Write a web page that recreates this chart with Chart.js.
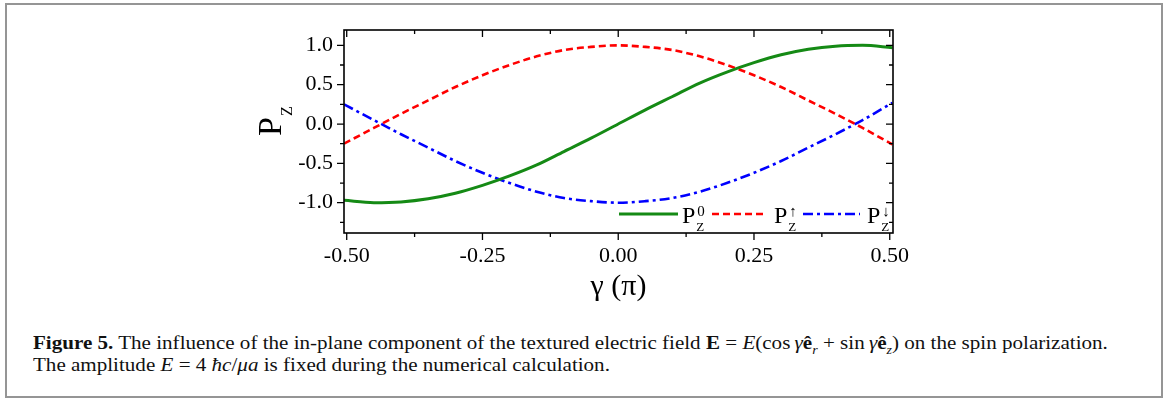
<!DOCTYPE html>
<html>
<head>
<meta charset="utf-8">
<script src="https://cdn.jsdelivr.net/npm/chart.js@4.4.1/dist/chart.umd.min.js"></script>
<style>
  body { margin: 0; background: #fff; }
  #wrap { position: relative; width: 1168px; height: 399px; overflow: hidden; }
  #frame { position: absolute; left: 5px; top: 3px; width: 1158px; height: 395px; border: 2px solid #959595; box-sizing: border-box; }
  #box { position: absolute; left: 0; top: 0; width: 1168px; height: 310px; }
  #cap { position: absolute; left: 33px; top: 332px; font-family: "Liberation Serif", serif; font-size: 18px; line-height: 22px; white-space: nowrap; color: #111; transform: scaleX(1.17); transform-origin: 0 0; }
  #cap i { font-style: italic; }
  #cap sub { font-size: 12px; line-height: 0; }
</style>
</head>
<body>
<div id="wrap">
  <div id="frame"></div>
  <div id="box"><canvas id="myChart" width="1168" height="310"></canvas></div>
  <div id="cap">
    <b>Figure 5.</b> The influence of the in-plane component of the textured electric field <b>E</b> = <i>E</i>(cos&thinsp;<i>γ</i><b>ê</b><sub><i>r</i></sub> + sin&thinsp;<i>γ</i><b>ê</b><sub><i>z</i></sub>) on the spin polarization.<br>
    The amplitude <i>E</i> = 4 <i>ħc</i>/<i>μa</i> is fixed during the numerical calculation.
  </div>
</div>
<script>
// values
const gamma = [-0.505, -0.45, -0.4, -0.35, -0.3, -0.25, -0.2, -0.15, -0.1, -0.05, 0,
               0.05, 0.1, 0.15, 0.2, 0.25, 0.3, 0.35, 0.4, 0.45, 0.505];
const pz0 = [-0.97, -1.0, -0.99, -0.95, -0.88, -0.78, -0.66, -0.52, -0.35, -0.18, 0.0,
             0.18, 0.35, 0.52, 0.66, 0.78, 0.88, 0.95, 0.99, 1.0, 0.97];
const pzUp = [-0.25, -0.05, 0.13, 0.3, 0.47, 0.62, 0.75, 0.86, 0.94, 0.98, 1.0,
              0.98, 0.94, 0.86, 0.75, 0.62, 0.47, 0.3, 0.13, -0.05, -0.26];
const pzDown = [0.25, 0.05, -0.13, -0.3, -0.47, -0.62, -0.75, -0.86, -0.94, -0.98, -1.0,
                -0.98, -0.94, -0.86, -0.75, -0.62, -0.47, -0.3, -0.13, 0.05, 0.27];

const xTicks = [-0.5, -0.25, 0, 0.25, 0.5];
const xMinor = [-0.375, -0.125, 0.125, 0.375];
const yTicks = [-1.0, -0.5, 0, 0.5, 1.0];
const yMinor = [-1.25, -0.75, -0.25, 0.25, 0.75];
const legendSup = ["0", "\u2191", "\u2193"];

const serif = "Liberation Serif";
const colors = ["#158a15", "#ff0000", "#0000ff"];
const dashes = [[], [7, 4], [10, 4, 3, 4]];

function pts(arr) {
  return gamma.map((g, i) => ({ x: g, y: arr[i] }));
}

const data = {
  datasets: [pz0, pzUp, pzDown].map((arr, i) => ({
    data: pts(arr),
    borderColor: colors[i],
    borderWidth: i === 0 ? 3 : 2.6,
    borderDash: dashes[i],
    pointRadius: 0,
    cubicInterpolationMode: "monotone",
    fill: false,
  })),
};

// axes box, ticks on all four sides, y title and the legend
const frame = {
  id: "frame",
  afterDraw(chart) {
    const { ctx, chartArea: a, scales } = chart;
    const xs = scales.x, ys = scales.y;
    ctx.save();
    ctx.strokeStyle = "#000";
    ctx.lineWidth = 1.6;
    ctx.setLineDash([]);
    ctx.strokeRect(a.left, a.top, a.right - a.left, a.bottom - a.top);

    ctx.lineWidth = 1.3;
    ctx.beginPath();
    const tk = (list, len) => {
      list.forEach(v => {
        const px = xs.getPixelForValue(v);
        ctx.moveTo(px, a.bottom); ctx.lineTo(px, a.bottom + len);
        ctx.moveTo(px, a.top); ctx.lineTo(px, a.top + len);
      });
    };
    const tky = (list, len) => {
      list.forEach(v => {
        const py = ys.getPixelForValue(v);
        ctx.moveTo(a.left, py); ctx.lineTo(a.left - len, py);
        ctx.moveTo(a.right, py); ctx.lineTo(a.right - len, py);
      });
    };
    tk(xTicks, 7); tk(xMinor, 4);
    tky(yTicks, 7); tky(yMinor, 4);
    ctx.stroke();

    // y title P_Z
    ctx.fillStyle = "#000";
    ctx.translate(281, 136);
    ctx.rotate(-Math.PI / 2);
    ctx.font = "34px " + serif;
    ctx.textBaseline = "alphabetic";
    ctx.fillText("P", 0, 0);
    const pw = ctx.measureText("P").width;
    ctx.font = "16px " + serif;
    ctx.fillText("Z", pw + 1, 11);
    ctx.restore();

    // legend
    ctx.save();
    const ly = 214;
    const items = [[619, 678, 682], [712, 763, 774], [803, 860, 867]];
    items.forEach((it, i) => {
      ctx.strokeStyle = colors[i];
      ctx.lineWidth = i === 0 ? 3 : 2.6;
      ctx.setLineDash(dashes[i]);
      ctx.beginPath();
      ctx.moveTo(it[0], ly); ctx.lineTo(it[1], ly);
      ctx.stroke();
      ctx.fillStyle = "#000";
      ctx.font = "24px " + serif;
      ctx.textBaseline = "alphabetic";
      ctx.fillText("P", it[2], 223);
      const w = ctx.measureText("P").width;
      ctx.font = "13px " + serif;
      ctx.fillText("Z", it[2] + w + 1, 231);
      ctx.font = "15px " + serif;
      ctx.fillText(legendSup[i], it[2] + w + 2, 216);
    });
    ctx.restore();
  },
};

new Chart("myChart", {
  type: "line",
  data: data,
  options: {
    responsive: false,
    animation: false,
    layout: { padding: { left: 0, right: 275, top: 30, bottom: 0 } },
    plugins: { legend: { display: false }, tooltip: { enabled: false } },
    scales: {
      x: {
        type: "linear",
        min: -0.505,
        max: 0.506,
        afterFit: s => { s.height = 310 - 233; },
        afterBuildTicks: s => { s.ticks = xTicks.map(v => ({ value: v })); },
        grid: { display: false, drawTicks: false },
        border: { display: false },
        ticks: {
          color: "#000",
          padding: 10,
          maxRotation: 0,
          font: { family: serif, size: 22 },
          callback: v => v.toFixed(2),
        },
        title: {
          display: true,
          text: "γ (π)",
          color: "#000",
          font: { family: serif, size: 30 },
          padding: { top: 0, bottom: 5 },
        },
      },
      y: {
        min: -1.385,
        max: 1.195,
        afterFit: s => { s.width = 344; },
        afterBuildTicks: s => { s.ticks = yTicks.map(v => ({ value: v })); },
        grid: { display: false, drawTicks: false },
        border: { display: false },
        ticks: {
          color: "#000",
          padding: 11,
          font: { family: serif, size: 22 },
          callback: v => v.toFixed(1),
        },
      },
    },
  },
  plugins: [frame],
});
</script>
</body>
</html>
